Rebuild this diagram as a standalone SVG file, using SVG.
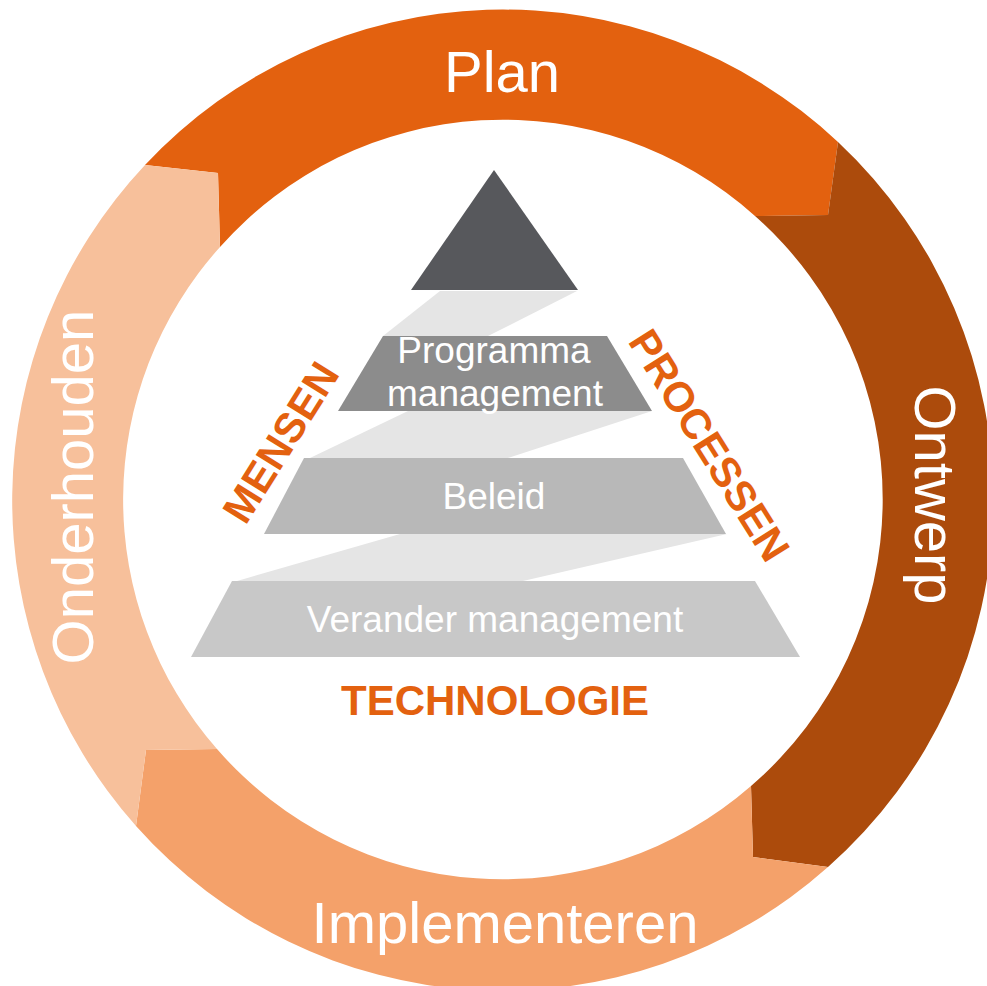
<svg xmlns="http://www.w3.org/2000/svg" width="987" height="986" viewBox="0 0 987 986">
<style>
.ring{font-family:"Liberation Sans",Arial,sans-serif;font-size:58px;fill:#FFFFFF;text-anchor:middle}
.lvl{font-family:"Liberation Sans",Arial,sans-serif;font-size:37px;fill:#FFFFFF;text-anchor:middle}
.side{font-family:"Liberation Sans",Arial,sans-serif;font-size:42px;font-weight:bold;fill:#E3610F;text-anchor:middle}
.band{fill:#E5E5E5}
</style>
<rect width="987" height="986" fill="#FFFFFF"/>
<g id="cycle">
<g id="plan">
<path d="M 145,165 A 490 490 0 0 1 838,142 L 828,215 L 755,216 A 378 378 0 0 0 220,247 L 218,173 Z" fill="#E3610F"/>
<text class="ring" x="502" y="92">Plan</text>
</g>
<g id="ontwerp">
<path d="M 838,142 A 490 490 0 0 1 828,867 L 753,857 L 751,786 A 378 378 0 0 0 755,216 L 828,215 Z" fill="#AC4B0C"/>
<text class="ring" transform="translate(915,495) rotate(90)">Ontwerp</text>
</g>
<g id="implementeren">
<path d="M 828,867 A 490 490 0 0 1 136,826 L 146,750 L 217,749 A 378 378 0 0 0 751,786 L 753,857 Z" fill="#F4A16A"/>
<text class="ring" x="505" y="943">Implementeren</text>
</g>
<g id="onderhouden">
<path d="M 136,826 A 490 490 0 0 1 145,165 L 218,173 L 220,247 A 378 378 0 0 0 217,749 L 146,750 Z" fill="#F7C09B"/>
<text class="ring" transform="translate(93,487) rotate(-90)">Onderhouden</text>
</g>
</g>
<g id="pyramid">
<g id="bands">
<polygon class="band" points="440,291 577,291 488,336 383,336"/>
<polygon class="band" points="408,411 652,411 508,458 310,458"/>
<polygon class="band" points="400,534 727,534 523,581 237,581"/>
</g>
<g id="top">
<polygon points="494,170 578,290 411,290" fill="#57585C"/>
</g>
<g id="programma">
<polygon points="383,336 607,336 652,411 338,411" fill="#8C8C8C"/>
<text class="lvl" x="494" y="363">Programma</text>
<text class="lvl" x="495" y="406">management</text>
</g>
<g id="beleid">
<polygon points="304,458 683,458 726,534 264,534" fill="#B8B8B8"/>
<text class="lvl" x="494" y="509">Beleid</text>
</g>
<g id="verander">
<polygon points="232,581 755,581 800,657 191,657" fill="#C8C8C8"/>
<text class="lvl" x="495" y="632">Verander management</text>
</g>
</g>
<g id="labels">
<text class="side" transform="translate(293,450) rotate(-58)">MENSEN</text>
<text class="side" transform="translate(697,453) rotate(58)">PROCESSEN</text>
<text class="side" x="495" y="715">TECHNOLOGIE</text>
</g>
</svg>
